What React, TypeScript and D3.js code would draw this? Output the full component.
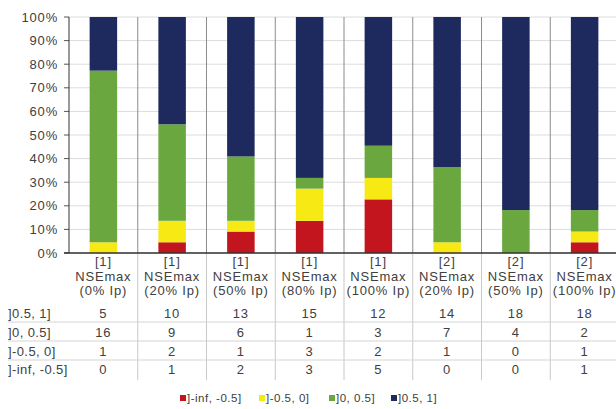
import React from "react";
import * as d3 from "d3";

const categories = [
  ["[1]", "NSEmax", "(0% Ip)"],
  ["[1]", "NSEmax", "(20% Ip)"],
  ["[1]", "NSEmax", "(50% Ip)"],
  ["[1]", "NSEmax", "(80% Ip)"],
  ["[1]", "NSEmax", "(100% Ip)"],
  ["[2]", "NSEmax", "(20% Ip)"],
  ["[2]", "NSEmax", "(50% Ip)"],
  ["[2]", "NSEmax", "(100% Ip)"],
];
const seriesNames = ["]-inf, -0.5]", "]-0.5, 0]", "]0, 0.5]", "]0.5, 1]"];
const seriesColors = ["#c3151d", "#f7ea14", "#6aa83f", "#1e2a5e"];
const tableRows = ["]0.5, 1]", "]0, 0.5]", "]-0.5, 0]", "]-inf, -0.5]"];
const sInf = [0, 1, 2, 3, 5, 0, 0, 1];
const sNeg = [1, 2, 1, 3, 2, 1, 0, 1];
const sLow = [16, 9, 6, 1, 3, 7, 4, 2];
const sHigh = [5, 10, 13, 15, 12, 14, 18, 18];
const yTicks = [0, 0.1, 0.2, 0.3, 0.4, 0.5, 0.6, 0.7, 0.8, 0.9, 1];

export default function App() {
  const W = 616, H = 409;
  const left = 69, right = 619, top = 17, bottom = 253;
  const idx = categories.map((_, i) => i);
  const x = d3.scaleBand<number>().domain(idx).range([left, right]).padding(0);
  const y = d3.scaleLinear().domain([0, 1]).range([bottom, top]);
  const series = [sInf, sNeg, sLow, sHigh];
  const bw = x.bandwidth() * 0.4;
  const font = "Liberation Sans, Arial, sans-serif";
  const txt = "#404040";
  const rowY = [313, 332, 351, 369];
  const rowVals = [sHigh, sLow, sNeg, sInf];
  const ls = 0.8;

  const bars: React.ReactNode[] = [];
  idx.forEach((i) => {
    const total = series.reduce((a, s) => a + s[i], 0);
    let acc = 0;
    series.forEach((s, k) => {
      const v = s[i] / total;
      if (v > 0) {
        bars.push(
          <rect key={`b${i}-${k}`} x={x(i)! + (x.bandwidth() - bw) / 2} y={y(acc + v)} width={bw} height={y(acc) - y(acc + v)} fill={seriesColors[k]} />
        );
      }
      acc += v;
    });
  });

  const legendX = [180, 259, 329, 391];

  return (
    <svg width={W} height={H} style={{ position: "absolute", left: 0, top: 0, background: "#fff" }} fontFamily={font}>
      {yTicks.map((t) => (
        <g key={t}>
          <line x1={left} x2={right} y1={y(t)} y2={y(t)} stroke="#dcdcdc" strokeWidth={1} />
          <line x1={left - 5} x2={left} y1={y(t)} y2={y(t)} stroke="#555" strokeWidth={1} />
          <text x={58} y={y(t)} dy="0.35em" textAnchor="end" fontSize={13} letterSpacing={ls} fill={txt}>{Math.round(t * 100)}%</text>
        </g>
      ))}
      {idx.slice(1).map((i) => (
        <g key={`v${i}`}>
          <line x1={x(i)!} x2={x(i)!} y1={top} y2={bottom} stroke="#8c8c8c" strokeWidth={1} />
          <line x1={x(i)!} x2={x(i)!} y1={bottom} y2={380} stroke="#c8c8c8" strokeWidth={1} />
        </g>
      ))}
      {bars}
      <line x1={left} x2={left} y1={top} y2={bottom} stroke="#333" strokeWidth={1} />
      <line x1={left - 5} x2={right} y1={bottom} y2={bottom} stroke="#333" strokeWidth={1.5} />
      {categories.map((c, i) => (
        <text key={`c${i}`} x={x(i)! + x.bandwidth() / 2} textAnchor="middle" fontSize={13} letterSpacing={ls} fill={txt}>
          {c.map((line, j) => (
            <tspan key={j} x={x(i)! + x.bandwidth() / 2} y={266 + j * 14.5}>{line}</tspan>
          ))}
        </text>
      ))}
      {[322, 341, 360].map((ly) => (
        <line key={`r${ly}`} x1={8} x2={W} y1={ly} y2={ly} stroke="#d4d4d4" strokeWidth={1} />
      ))}
      {tableRows.map((r, k) => (
        <g key={`t${k}`}>
          <text x={8} y={rowY[k]} dy="0.35em" fontSize={13} letterSpacing={0.4} fill={txt}>{r}</text>
          {idx.map((i) => (
            <text key={i} x={x(i)! + x.bandwidth() / 2} y={rowY[k]} dy="0.35em" textAnchor="middle" fontSize={13} letterSpacing={ls} fill={txt}>{rowVals[k][i]}</text>
          ))}
        </g>
      ))}
      {seriesNames.map((n, k) => (
        <g key={`l${k}`}>
          <rect x={legendX[k]} y={395} width={6} height={6} fill={seriesColors[k]} />
          <text x={legendX[k] + 7} y={398} dy="0.35em" fontSize={11.5} letterSpacing={0.5} fill={txt}>{n}</text>
        </g>
      ))}
    </svg>
  );
}
